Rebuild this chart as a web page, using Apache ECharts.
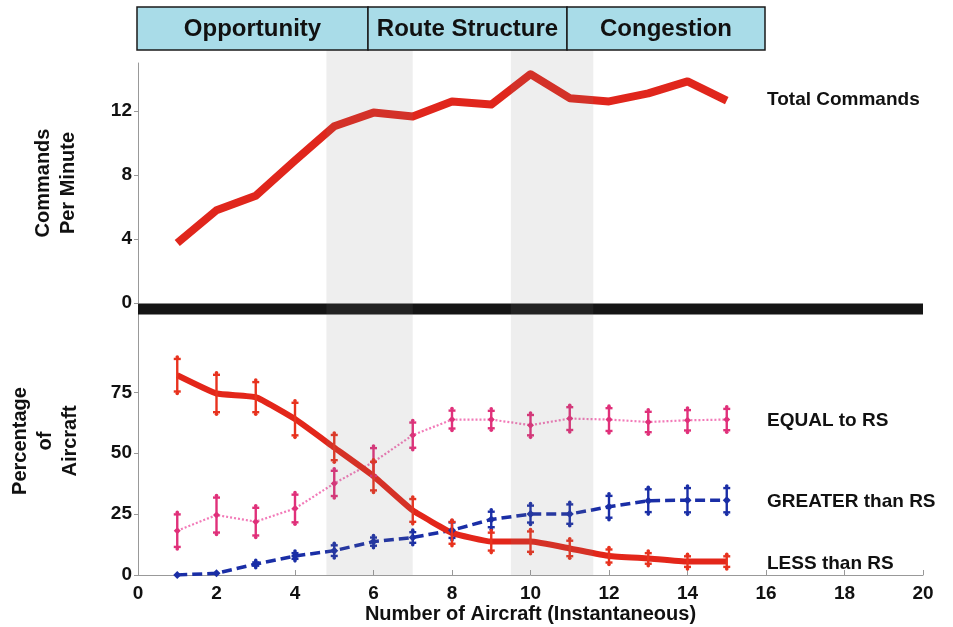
<!DOCTYPE html>
<html><head><meta charset="utf-8">
<script src="https://cdn.jsdelivr.net/npm/echarts@6/dist/echarts.min.js"></script>
<style>html,body{margin:0;padding:0;background:#fff}#c{width:953px;height:627px}</style>
</head><body><div id="c"></div>
<script>
// ---- data ----
const aircraft = [1,2,3,4,5,6,7,8,9,10,11,12,13,14,15];
const totalCommands = [3.75,5.8,6.7,8.9,11.05,11.9,11.65,12.6,12.4,14.3,12.8,12.6,13.1,13.85,12.65];
const lessRS = [82,74.5,73,64,52.3,40.6,26.5,17.3,13.7,13.7,10.9,7.8,6.8,5.5,5.5];
const lessErr = [7.5,8.5,7,7.5,6,6.7,5.5,5.3,4.5,5,4,3.5,3,3,3];
const equalRS = [18.2,24.6,21.9,27.3,37.6,46.4,57.4,63.8,63.8,61.5,64.2,63.8,62.8,63.5,63.8];
const equalErr = [7.5,8,6.5,6.5,6,6.5,6,4.5,4.4,5,5.5,5.5,5,5,5.2];
const greaterRS = [0,0.7,4.5,7.8,10,13.7,15.4,18.4,22.8,25,25,28,30.5,30.7,30.7];
const greaterErr = [0,0,1.5,2,3,2.5,3,4,4,4.3,4.8,5.3,5.5,5.8,5.8];
const zeroBarX = [0,20];
const zeroBarY = -0.37;
const shadedRanges = [[4.8,7.0],[9.5,11.6]];
const phases = ['Opportunity','Route Structure','Congestion'];
const topTicks = [0,4,8,12];
const bottomTicks = [0,25,50,75];
const seriesLabels = ['Total Commands','EQUAL to RS','GREATER than RS','LESS than RS'];

const FONT = '"Liberation Sans", Arial, Helvetica, sans-serif';
const TXT = '#111';
const chart = echarts.init(document.getElementById('c'), null, {renderer:'canvas'});

function pairs(xs, ys){ return xs.map((x,i)=>[x, ys[i]]); }
function triples(xs, ys, es){ return xs.map((x,i)=>[x, ys[i], es[i]]); }
function errRender(color){
  return function(params, api){
    const x = api.value(0), y = api.value(1), e = api.value(2);
    if (!e) return null;
    const t = api.coord([x, y+e]), b = api.coord([x, y-e]);
    const w = 3.5;
    const st = {stroke: color, lineWidth: 2.4};
    return {type:'group', children:[
      {type:'line', shape:{x1:t[0],y1:t[1],x2:b[0],y2:b[1]}, style:st},
      {type:'line', shape:{x1:t[0]-w,y1:t[1]+2,x2:t[0]+w,y2:t[1]+2}, style:st},
      {type:'line', shape:{x1:b[0]-w,y1:b[1]-2,x2:b[0]+w,y2:b[1]-2}, style:st},
      {type:'circle', shape:{cx:t[0], cy:t[1], r:1.8}, style:{fill:color}},
      {type:'circle', shape:{cx:b[0], cy:b[1], r:1.8}, style:{fill:color}}
    ]};
  };
}

const axisLabelStyle = {color: TXT, fontFamily: FONT, fontWeight: 'bold', fontSize: 19};
const axisLineStyle = {lineStyle:{color:'#999', width:1}};

const option = {
  backgroundColor: '#fff',
  animation: false,
  grid: [
    {left: 138, right: 30, top: 63, height: 240},
    {left: 138, right: 30, top: 307, bottom: 52},
    {left: 138, right: 30, top: 50, bottom: 52}
  ],
  xAxis: [
    {gridIndex:0, type:'value', min:0, max:20, show:false},
    {gridIndex:1, type:'value', min:0, max:20, interval:2,
     axisLine: axisLineStyle, axisTick:{inside:true, length:5, lineStyle:{color:'#999'}},
     splitLine:{show:false}, axisLabel: Object.assign({margin:9}, axisLabelStyle),
     name:'Number of Aircraft (Instantaneous)', nameLocation:'middle', nameGap:29,
     nameTextStyle:{color:TXT, fontFamily:FONT, fontWeight:'bold', fontSize:20}},
    {gridIndex:2, type:'value', min:0, max:20, show:false}
  ],
  yAxis: [
    {gridIndex:0, type:'value', min:0, max:15,
     axisLine: Object.assign({show:true}, axisLineStyle),
     axisTick:{show:true, length:4, lineStyle:{color:'#999'}, customValues: topTicks},
     axisLabel: Object.assign({margin:6, customValues: topTicks}, axisLabelStyle),
     splitLine:{show:false},
     name:'Commands\nPer Minute', nameLocation:'middle', nameRotate:90, nameGap:57,
     nameTextStyle:{color:TXT, fontFamily:FONT, fontWeight:'bold', fontSize:20, lineHeight:25}},
    {gridIndex:1, type:'value', min:0, max:110,
     axisLine: Object.assign({show:true}, axisLineStyle),
     axisTick:{show:true, length:4, lineStyle:{color:'#999'}, customValues: bottomTicks},
     axisLabel: Object.assign({margin:6, customValues: bottomTicks}, axisLabelStyle),
     splitLine:{show:false},
     name:'Percentage\nof\nAircraft', nameLocation:'middle', nameRotate:90, nameGap:55,
     nameTextStyle:{color:TXT, fontFamily:FONT, fontWeight:'bold', fontSize:20, lineHeight:25}},
    {gridIndex:2, type:'value', min:0, max:1, show:false}
  ],
  series: [
    {type:'line', xAxisIndex:0, yAxisIndex:0, data: zeroBarX.map(x=>[x, zeroBarY]), clip:false,
     symbol:'none', lineStyle:{color:'#151515', width:11, cap:'butt'}, z:1, silent:true},
    {type:'line', xAxisIndex:0, yAxisIndex:0, data: pairs(aircraft, totalCommands),
     symbol:'none', lineStyle:{color:'#e0261c', width:8, join:'round'}, z:2},
    {type:'line', xAxisIndex:1, yAxisIndex:1, data: pairs(aircraft, equalRS),
     symbol:'diamond', symbolSize:7, itemStyle:{color:'#e0307a'},
     lineStyle:{color:'#f27ab8', width:2.2, type:[2,2]}, z:2},
    {type:'custom', xAxisIndex:1, yAxisIndex:1, data: triples(aircraft, equalRS, equalErr),
     renderItem: errRender('#e0307a'), z:3},
    {type:'line', xAxisIndex:1, yAxisIndex:1, data: pairs(aircraft, greaterRS),
     symbol:'diamond', symbolSize:8, itemStyle:{color:'#1a2ea6'},
     lineStyle:{color:'#1a2ea6', width:3.5, type:[10,5]}, z:2},
    {type:'custom', xAxisIndex:1, yAxisIndex:1, data: triples(aircraft, greaterRS, greaterErr),
     renderItem: errRender('#1a2ea6'), z:3},
    {type:'line', xAxisIndex:1, yAxisIndex:1, data: pairs(aircraft, lessRS), smooth:0.12,
     symbol:'none', lineStyle:{color:'#e3261a', width:6, join:'round'}, z:2},
    {type:'custom', xAxisIndex:1, yAxisIndex:1, data: triples(aircraft, lessRS, lessErr),
     renderItem: errRender('#e8321e'), z:3},
    {type:'line', xAxisIndex:2, yAxisIndex:2, data: [], z:10, silent:true,
     markArea:{silent:true, z:10, itemStyle:{color:'rgba(120,120,120,0.13)'},
       data: shadedRanges.map(r=>[{xAxis:r[0]},{xAxis:r[1]}])}}
  ],
  graphic: []
};
chart.setOption(option);

// phase banner and series labels (decorations, pixel placed)
const bannerEdges = [137, 368, 567, 765];
const g = [];
phases.forEach((p,i)=>{
  g.push({type:'rect', shape:{x:bannerEdges[i], y:7, width:bannerEdges[i+1]-bannerEdges[i], height:43},
          style:{fill:'#a9dce8', stroke:'#1a1a1a', lineWidth:1.5}, z:20});
  g.push({type:'text', x:(bannerEdges[i]+bannerEdges[i+1])/2, y:29,
          style:{text:p, font:'bold 24px '+FONT, fill:TXT, textAlign:'center', textVerticalAlign:'middle'}, z:21});
});
const labelY = [100, 421, 502, 564];
seriesLabels.forEach((t,i)=>{
  g.push({type:'text', x:767, y:labelY[i],
          style:{text:t, font:'bold 19px '+FONT, fill:TXT, textAlign:'left', textVerticalAlign:'middle'}, z:21});
});
chart.setOption({graphic: g});
</script>
</body></html>
